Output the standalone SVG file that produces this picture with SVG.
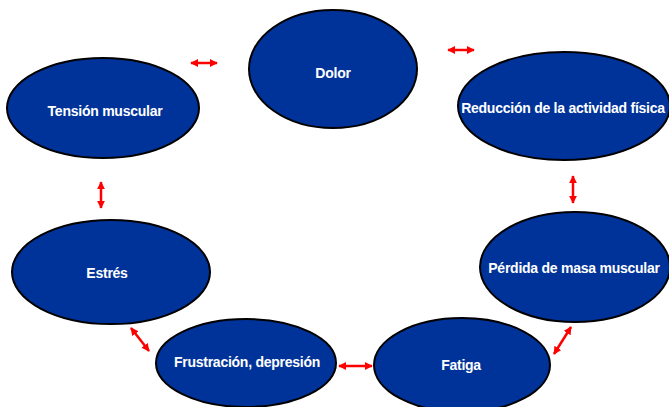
<svg xmlns="http://www.w3.org/2000/svg" width="669" height="407" viewBox="0 0 669 407">
<style>
.n{fill:#003399;stroke:#000;stroke-width:2}
.t{fill:#fff;font-family:"Liberation Sans",Arial,sans-serif;font-weight:bold;font-size:14px;text-anchor:middle;letter-spacing:-0.25px}
.c{stroke:#f00;stroke-width:2.5;fill:none;marker-start:url(#a);marker-end:url(#a)}
</style>
<defs>
<marker id="a" viewBox="0 0 10 10" refX="9" refY="5" markerWidth="3.2" markerHeight="3.2" orient="auto-start-reverse" markerUnits="strokeWidth">
<path d="M0,0L10,5L0,10z" fill="#f00"/>
</marker>
</defs>
<rect width="669" height="407" fill="#fff"/>
<g id="connectors">
<line class="c" x1="191" y1="63" x2="217" y2="63"/>
<line class="c" x1="448" y1="50" x2="474" y2="50"/>
<line class="c" x1="101" y1="182" x2="101" y2="208"/>
<line class="c" x1="573" y1="176" x2="573" y2="203"/>
<line class="c" x1="131" y1="328" x2="149" y2="351"/>
<line class="c" x1="339" y1="366" x2="372" y2="366"/>
<line class="c" x1="571" y1="327" x2="554" y2="354"/>
</g>
<g id="dolor"><ellipse class="n" cx="333" cy="69" rx="84" ry="59"/><text class="t" x="333" y="78">Dolor</text></g>
<g id="tension"><ellipse class="n" cx="103" cy="108" rx="96" ry="50"/><text class="t" x="105" y="116">Tensión muscular</text></g>
<g id="reduccion"><ellipse class="n" cx="564" cy="106" rx="106" ry="54"/><text class="t" x="563" y="113">Reducción de la actividad física</text></g>
<g id="perdida"><ellipse class="n" cx="575" cy="267" rx="95" ry="55"/><text class="t" x="574" y="273">Pérdida de masa muscular</text></g>
<g id="estres"><ellipse class="n" cx="111" cy="272" rx="99" ry="52"/><text class="t" x="107" y="278">Estrés</text></g>
<g id="frustracion"><ellipse class="n" cx="246" cy="363" rx="90" ry="44"/><text class="t" x="247" y="367">Frustración, depresión</text></g>
<g id="fatiga"><ellipse class="n" cx="462" cy="365" rx="88" ry="47"/><text class="t" x="461" y="370">Fatiga</text></g>
</svg>
